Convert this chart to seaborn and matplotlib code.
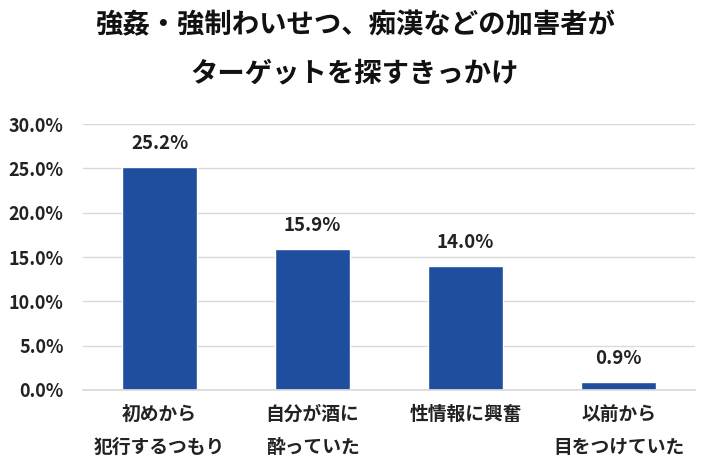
import matplotlib
matplotlib.use("Agg")
import matplotlib.pyplot as plt
import seaborn as sns
import pandas as pd
from matplotlib.ticker import FuncFormatter

categories = ["初めから\n犯行するつもり", "自分が酒に\n酔っていた", "性情報に興奮", "以前から\n目をつけていた"]
values = [25.2, 15.9, 14.0, 0.9]
title = "強姦・強制わいせつ、痴漢などの加害者が\nターゲットを探すきっかけ"

sns.set_theme(style="white")
plt.rcParams['font.family'] = ['Noto Sans CJK JP', 'DejaVu Sans']

df = pd.DataFrame({"cat": categories, "val": values})

fig = plt.figure(figsize=(7.1, 4.73), dpi=100)
ax = fig.add_axes([0.117, 0.1755, 0.862, 0.5623])
sns.barplot(data=df, x="cat", y="val", color="#1F4E9E", width=0.49, saturation=1, ax=ax)

ax.set_ylim(0, 30)
ax.set_yticks([0, 5, 10, 15, 20, 25, 30])
ax.yaxis.set_major_formatter(FuncFormatter(lambda v, p: f"{v:.1f}%"))
ax.grid(axis="y", color="#D9D9D9", linewidth=1)
ax.set_axisbelow(True)
for s in ["top", "right", "left"]:
    ax.spines[s].set_visible(False)
ax.spines["bottom"].set_color("#D9D9D9")
ax.set_xlabel("")
ax.set_ylabel("")
ax.tick_params(axis="y", length=0, pad=14, labelsize=13, labelcolor="#222222")
ax.tick_params(axis="x", length=0, pad=11, labelsize=13.5, labelcolor="#222222")
for lab in ax.get_yticklabels():
    lab.set_fontweight("bold")
for lab in ax.get_xticklabels():
    lab.set_linespacing(1.9)
    lab.set_verticalalignment("top")
    lab.set_fontweight("bold")

for i, v in enumerate(values):
    ax.annotate(f"{v:.1f}%", (i, v), xytext=(0, 10), textcoords="offset points",
                ha="center", va="bottom", fontsize=13.5, fontweight="bold", color="#222222")

fig.text(0.5, 0.975, title, ha="center", va="top", fontsize=19.7, fontweight="bold",
         linespacing=1.9, color="#111111")

fig.savefig("out.png", dpi=100)
